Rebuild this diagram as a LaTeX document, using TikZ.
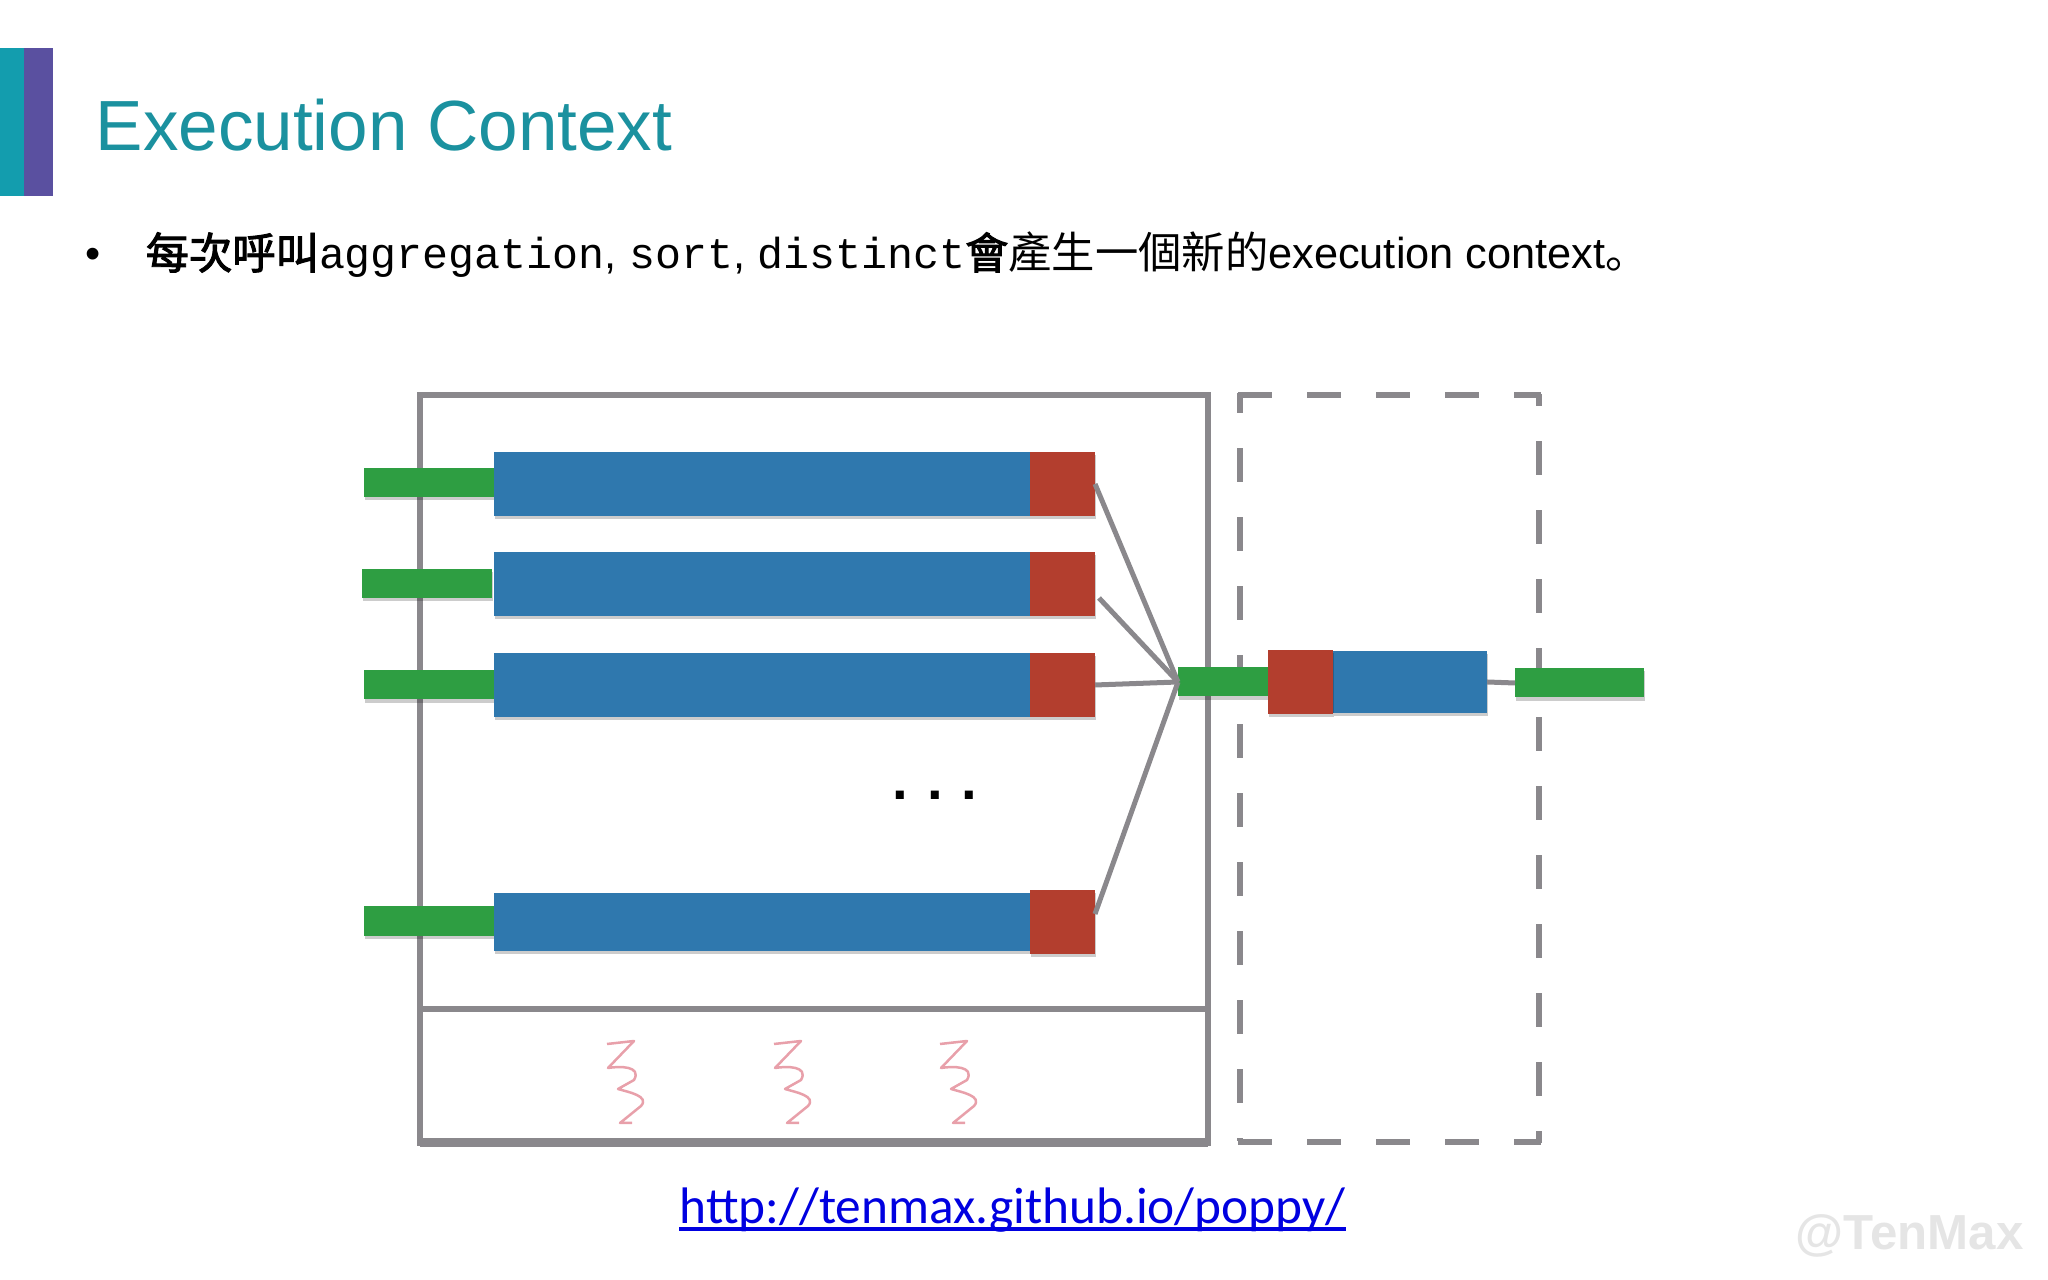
\documentclass[tikz,border=0pt]{standalone}
\usepackage{fontspec}
\setmainfont{Liberation Sans}
\setmonofont{Liberation Mono}
\newfontfamily\cjk{Noto Sans CJK TC}
\newfontfamily\cjkheavy[FakeBold=2.2]{Noto Sans CJK TC}
\newfontfamily\cjkstop{Noto Sans CJK SC}
\newfontfamily\linkfont{Carlito}
\usetikzlibrary{shadows}
\definecolor{barteal}{HTML}{139DAE}
\definecolor{barpurple}{HTML}{5A50A0}
\definecolor{titleteal}{HTML}{1B919F}
\definecolor{framegray}{HTML}{8A888C}
\definecolor{flowblue}{HTML}{2F78AE}
\definecolor{flowred}{HTML}{B33E2E}
\definecolor{flowgreen}{HTML}{2E9E42}
\definecolor{threadpink}{HTML}{E8A0AA}
\definecolor{linkblue}{HTML}{0000E0}
\tikzset{
  x=0.01cm, y=-0.01cm,
  flat/.style={shape=rectangle, inner sep=0pt, outer sep=0pt, minimum width=#1},
  soft/.style={drop shadow={shadow xshift=0.01cm, shadow yshift=-0.03cm, opacity=0.2, fill=black}},
  bluebar/.style={flat=#1, fill=flowblue, soft},
  redcap/.style={flat=0.65cm, minimum height=0.64cm, fill=flowred, soft},
  greenbar/.style={flat=#1, minimum height=0.29cm, fill=flowgreen, soft},
  frame/.style={draw=framegray, line width=0.055cm},
  link/.style={draw=framegray, line width=0.05cm},
  slideline/.style={anchor=base west, inner sep=0pt, font=\fontsize{12.32pt}{15pt}\selectfont},
}
\begin{document}
\begin{tikzpicture}
    \useasboundingbox (0,0) rectangle (2048,1280);
    % Side bars and title
    \fill[barteal] (0,48) rectangle (24,196);
    \fill[barpurple] (24,48) rectangle (53,196);
    \node[anchor=base west, inner sep=0pt, text=titleteal, font=\fontsize{20.2pt}{24pt}\selectfont] (title) at (95,151) {Execution Context};
    \node[slideline] (bullet) at (85,269) {•};
    \node[slideline] (subtitle) at (145,269)
      {{\cjkheavy 每次呼叫}\texttt{aggregation}, \texttt{sort}, \texttt{distinct}{\cjkheavy 會}{\cjk 產生一個新的}execution context{\cjkstop 。}};
    % Boxes
    \draw[frame] (420,395) rectangle (1208,1143);
    \draw[frame, line width=0.09cm] (420,1143) -- (1208,1143);
    \draw[frame] (420,1009) -- (1208,1009);
    \draw[frame, dash pattern=on 0.34cm off 0.35cm] (1238,395) -- (1541,395);
    \draw[frame, dash pattern=on 0.34cm off 0.35cm, dash phase=0.14cm] (1240,393) -- (1240,1141);
    \draw[frame, dash pattern=on 0.34cm off 0.35cm, dash phase=0.22cm] (1539,394) -- (1539,1143);
    \draw[frame, dash pattern=on 0.34cm off 0.35cm] (1238,1142) -- (1541,1142);
    % Threads
    \foreach \x in {0,167,333}
      \draw[threadpink, line width=0.025cm, line join=round, shift={(\x,0)}]
        (607,1044) -- (634,1041) -- (608,1068) .. controls (620,1066) and (642,1066) .. (634,1080) -- (618,1089) .. controls (628,1092) and (650,1096) .. (641,1106) -- (620,1123) -- (632,1123);
    % Left rows
    \foreach \name/\y/\gy/\gx/\h in {1/484/483/364/0.63cm, 2/584/584/362/0.63cm, 3/685/685/364/0.63cm, 4/922/921/364/0.58cm} {
      \node[greenbar=1.3cm, anchor=west] (in\name) at (\gx,\gy) {};
      \node[bluebar=5.36cm, minimum height=\h, anchor=west] (bar\name) at (494,\y) {};
      \node[redcap, anchor=west] (cap\name) at (1030,\y) {};
    }
    \node[anchor=base, inner sep=0pt, font=\bfseries\fontsize{16pt}{18pt}\selectfont] (dots) at (935,800) {.\hspace{0.187cm}.\hspace{0.187cm}.};
    % Merge and right side
    \node[greenbar=0.9cm, anchor=west] (merge) at (1178,682) {};
    \node[flat=1.54cm, minimum height=0.61cm, fill=flowblue, soft, anchor=west] (sortbar) at (1333,682) {};
    \node[redcap, minimum height=0.63cm, anchor=east] (sortcap) at (1333,682) {};
    \node[greenbar=1.29cm, anchor=west] (out) at (1515,683) {};
    \coordinate (from2) at (1099,598);
    \coordinate (from4) at (1095,914);
    \draw[link] (cap1.east) -- (merge.west);
    \draw[link] (from2) -- (merge.west);
    \draw[link] (cap3.east) -- (merge.west);
    \draw[link] (from4) -- (merge.west);
    \draw[link] (sortbar.east) -- (out.west);
    % Link and watermark
    \node[anchor=base west, inner sep=0pt, text=linkblue, font=\linkfont\fontsize{14.6pt}{17pt}\selectfont] (url) at (679,1224) {http://tenmax.github.io/poppy/};
    \draw[linkblue, line width=0.03cm] ([yshift=-0.05cm]url.base west) -- ([yshift=-0.05cm]url.base east);
    \node[anchor=base west, inner sep=0pt, text=black!10, font=\bfseries\fontsize{14pt}{16pt}\selectfont] (mark) at (1795,1250) {@TenMax};
\end{tikzpicture}
\end{document}
